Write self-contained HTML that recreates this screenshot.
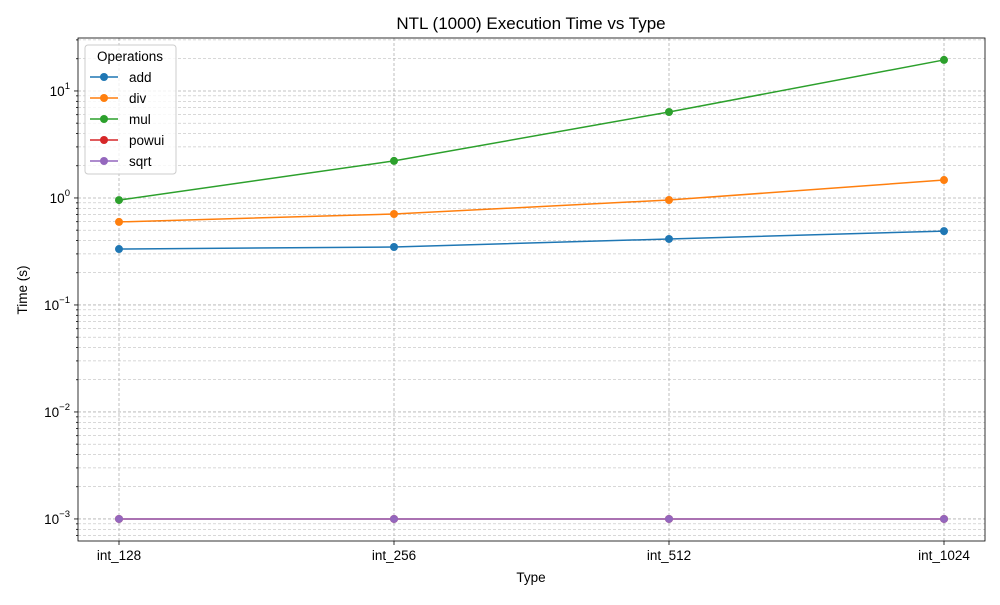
<!DOCTYPE html>
<html><head><meta charset="utf-8"><style>
body{margin:0;background:#fff;font-family:"Liberation Sans","DejaVu Sans",sans-serif;}
svg text{font-family:"Liberation Sans","DejaVu Sans",sans-serif;}
</style></head><body>
<svg id="chart" width="1000" height="600" xmlns="http://www.w3.org/2000/svg">
<rect width="1000" height="600" fill="#fff"/>
<text x="531" y="29" text-anchor="middle" font-size="17">NTL (1000) Execution Time vs Type</text>
<g id="grid"></g><g id="axes"></g><g id="series"></g><g id="legend"></g>
<text x="531" y="582" text-anchor="middle" font-size="13.5">Type</text>
<text x="27" y="290" text-anchor="middle" font-size="13.5" transform="rotate(-90 27 290)">Time (s)</text>
</svg>
<script>
const categories=["int_128","int_256","int_512","int_1024"];
const seriesNames=["add","div","mul","powui","sqrt"];
const seriesColors=["#1f77b4","#ff7f0e","#2ca02c","#d62728","#9467bd"];
const addVals=[0.333,0.348,0.414,0.49];
const divVals=[0.597,0.708,0.957,1.47];
const mulVals=[0.955,2.22,6.36,19.5];
const powuiVals=[0.001,0.001,0.001,0.001];
const sqrtVals=[0.001,0.001,0.001,0.001];
const yTickExps=[-3,-2,-1,0,1];
const allVals=[addVals,divVals,mulVals,powuiVals,sqrtVals];
const NS="http://www.w3.org/2000/svg";
const L=78,R=985,T=38,B=541;
const x0=119,x1=944;
const xs=i=>x0+(x1-x0)*i/(categories.length-1);
const yLogMin=-3.206,yLogMax=1.495;
const ys=v=>B-(Math.log10(v)-yLogMin)/(yLogMax-yLogMin)*(B-T);
function mk(tag,attrs,parent){const e=document.createElementNS(NS,tag);for(const k in attrs)e.setAttribute(k,attrs[k]);parent.appendChild(e);return e;}
const grid=document.getElementById('grid'),axes=document.getElementById('axes'),ser=document.getElementById('series'),leg=document.getElementById('legend');
for(let e=-4;e<=2;e++){for(let m=1;m<10;m++){const v=m*Math.pow(10,e);const y=ys(v);if(y<T||y>B)continue;
const g=mk('line',{x1:L,x2:R,y1:y,y2:y,stroke:'#b0b0b0','stroke-width':m==1?0.8:0.5,'stroke-dasharray':'3,2'},grid);


const t=mk('line',{x1:L-(m==1?4:2),x2:L,y1:y,y2:y,stroke:'#000','stroke-width':0.8},axes);

}}
yTickExps.forEach(e=>{const y=ys(Math.pow(10,e));const t=mk('text',{x:L-8,y:y+5,'text-anchor':'end','font-size':13.5},axes);
t.innerHTML='10<tspan dy="-7" font-size="9.5">'+(e<0?'−'+(-e):e)+'</tspan>';

});
categories.forEach((c,i)=>{const x=xs(i);
const g=mk('line',{x1:x,x2:x,y1:T,y2:B,stroke:'#b0b0b0','stroke-width':0.8,'stroke-dasharray':'3,2'},grid);


mk('line',{x1:x,x2:x,y1:B,y2:B+4,stroke:'#000','stroke-width':0.8},axes);
const t=mk('text',{x:x,y:B+19,'text-anchor':'middle','font-size':13.5},axes);t.textContent=c;

});
const fr=mk('rect',{x:L,y:T,width:R-L,height:B-T,fill:'none',stroke:'#000','stroke-width':0.8},axes);


allVals.forEach((vals,s)=>{const g=mk('g',{},ser);


mk('polyline',{points:vals.map((v,i)=>xs(i)+','+ys(v)).join(' '),fill:'none',stroke:seriesColors[s],'stroke-width':1.5},g);
vals.forEach((v,i)=>{const c=mk('circle',{cx:xs(i),cy:ys(v),r:4,fill:seriesColors[s]},g);

});});
const lb=mk('rect',{x:85,y:45,width:91,height:129,rx:3,fill:'#fff','fill-opacity':0.8,stroke:'#ccc'},leg);


const lt=mk('text',{x:130,y:61,'text-anchor':'middle','font-size':13.5},leg);lt.textContent='Operations';


seriesNames.forEach((n,s)=>{const y=77+s*21;const g=mk('g',{},leg);


mk('line',{x1:90,x2:118,y1:y,y2:y,stroke:seriesColors[s],'stroke-width':1.5},g);
mk('circle',{cx:104,cy:y,r:4,fill:seriesColors[s]},g);
const t=mk('text',{x:129,y:y+5,'font-size':13.5},g);t.textContent=n;});
</script>
</body></html>
